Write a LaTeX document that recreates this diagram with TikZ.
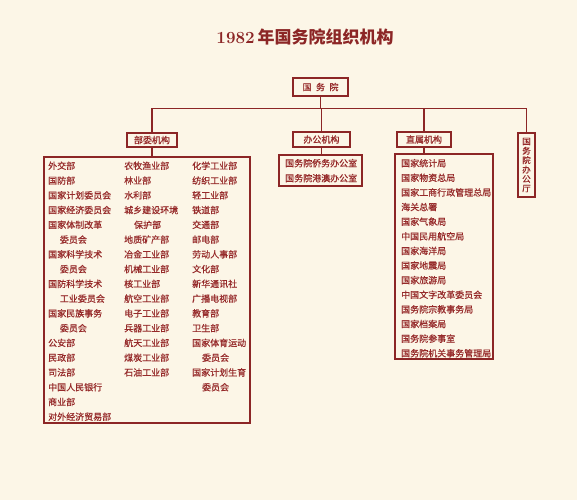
\documentclass[tikz,border=0pt]{standalone}
\usepackage{fontspec}
\newfontfamily\cjk{Noto Sans CJK SC}
\newfontfamily\cjkb{Noto Sans CJK SC}[FakeBold=0.6]
\definecolor{paper}{HTML}{FCF6E7}
\definecolor{ink}{HTML}{8C2626}
\definecolor{txt}{HTML}{962A2A}

\begin{document}
\begin{tikzpicture}[x=1pt,y=-1pt,
    box/.style={draw=ink,line width=1.1pt,inner sep=0pt,text=txt,font=\cjkb\fontsize{9}{9}\selectfont},
    item/.style={anchor=base west,inner sep=0pt,text=txt,font=\cjkb\fontsize{9}{9}\selectfont}]
        \fill[paper] (0,0) rectangle (577,500);
        % title
        \node[text=ink] (title) at (305,37) {\bfseries\fontsize{17}{17}\selectfont 1982\,{\cjk 年国务院组织机构}};
        % top boxes
        \node[box,minimum width=55pt,minimum height=18pt] (gwy) at (320.5,87) {国\hspace{4.5pt}务\hspace{4.5pt}院};
        \node[box,minimum width=50pt,minimum height=14pt] (bwjg) at (152,140) {部委机构};
        \node[box,minimum width=57pt,minimum height=15pt] (bgjg) at (321.5,139.5) {办公机构};
        \node[box,minimum width=54pt,minimum height=15pt] (zsjg) at (424,139.5) {直属机构};
        \node[box,minimum width=17pt,minimum height=64pt,align=center,font=\cjkb\fontsize{8.5}{9.4}\selectfont] (bgt) at (526.5,165) {国\\务\\院\\办\\公\\厅};
        % list frames
        \node[box,minimum width=206pt,minimum height=266pt] (bwlist) at (147,290) {};
        \node[box,minimum width=83pt,minimum height=31pt] (bglist) at (320.5,170.5) {};
        \node[box,minimum width=98pt,minimum height=205pt] (zslist) at (444,256.5) {};
        % connectors
        \coordinate (hub) at (320.5,108.5);
        \draw[ink,line width=1.1pt] (gwy.south) -- (hub);
        \draw[ink,line width=1.1pt] (bwjg.north) |- (bgt.north |- hub) -- (bgt.north);
        \draw[ink,line width=1.1pt] (bgjg.north) -- (bgjg.north |- hub);
        \draw[ink,line width=1.1pt] (zsjg.north) -- (zsjg.north |- hub);
        \draw[ink,line width=1.1pt] (bwjg.south) -- (bwjg.south |- bwlist.north);
        \draw[ink,line width=1.1pt] (bgjg.south) -- (bgjg.south |- bglist.north);
        \draw[ink,line width=1.1pt] (zsjg.south) -- (zsjg.south |- zslist.north);
        % ministries and commissions
        \foreach \t [count=\i from 0] in {外交部,国防部,国家计划委员会,国家经济委员会,国家体制改革,\hspace{1.3em}委员会,国家科学技术,\hspace{1.3em}委员会,国防科学技术,\hspace{1.3em}工业委员会,国家民族事务,\hspace{1.3em}委员会,公安部,民政部,司法部,中国人民银行,商业部,对外经济贸易部}{
            \node[item] (bwa-\i) at (48,169.2+14.76*\i) {\t};
        }
        \foreach \t [count=\i from 0] in {农牧渔业部,林业部,水利部,城乡建设环境,\hspace{1.1em}保护部,地质矿产部,冶金工业部,机械工业部,核工业部,航空工业部,电子工业部,兵器工业部,航天工业部,煤炭工业部,石油工业部}{
            \node[item] (bwb-\i) at (124,169.2+14.76*\i) {\t};
        }
        \foreach \t [count=\i from 0] in {化学工业部,纺织工业部,轻工业部,铁道部,交通部,邮电部,劳动人事部,文化部,新华通讯社,广播电视部,教育部,卫生部,国家体育运动,\hspace{1.1em}委员会,国家计划生育,\hspace{1.1em}委员会}{
            \node[item] (bwc-\i) at (192,169.2+14.76*\i) {\t};
        }
        % offices
        \foreach \t [count=\i from 0] in {国务院侨务办公室,国务院港澳办公室}{
            \node[item] (bg-\i) at (285,166.6+15*\i) {\t};
        }
        % directly affiliated
        \foreach \t [count=\i from 0] in {国家统计局,国家物资总局,国家工商行政管理总局,海关总署,国家气象局,中国民用航空局,国家海洋局,国家地震局,国家旅游局,中国文字改革委员会,国务院宗教事务局,国家档案局,国务院参事室,国务院机关事务管理局}{
            \node[item] (zs-\i) at (401,166.6+14.62*\i) {\t};
        }
    \end{tikzpicture}
\end{document}
